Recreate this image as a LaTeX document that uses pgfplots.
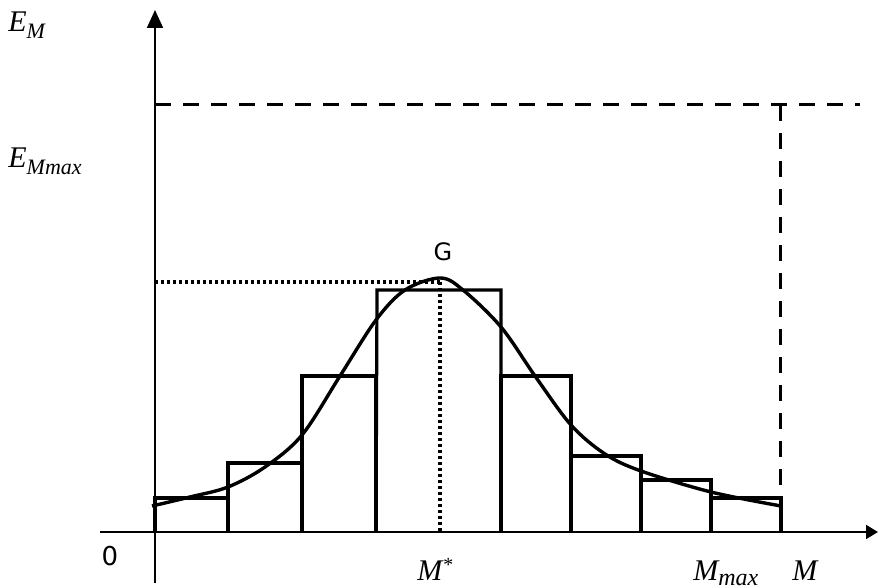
\documentclass[border=0pt]{standalone}
\usepackage{fontspec}
\setmainfont{Liberation Serif}
\newfontfamily\sansf{DejaVu Sans}
\usepackage{pgfplots}
\pgfplotsset{compat=1.18}
\usetikzlibrary{arrows.meta}
\begin{document}
\begin{tikzpicture}
\begin{axis}[
  scale only axis, width=440pt, height=294pt,
  xmin=0, xmax=880, ymin=0, ymax=588,
  hide axis, clip=false,
]
% axes
\addplot[black, line width=1pt, -{Triangle[width=8pt,length=9pt]}] coordinates {(155,5) (155,578)};
\addplot[black, line width=1pt, -{Triangle[width=7pt,length=6pt]}] coordinates {(100,56) (878,56)};
% histogram bars
\addplot[black, line width=1.6pt] coordinates {(155,56) (155,90) (228,90) (228,56)};
\addplot[black, line width=1.6pt] coordinates {(228,56) (228,125) (302,125) (302,56)};
\addplot[black, line width=1.6pt] coordinates {(302,56) (302,212) (376,212) (376,56)};
\addplot[black, line width=1.6pt] coordinates {(376,56) (377,298) (501,298) (501,56)};
\addplot[black, line width=1.6pt] coordinates {(501,56) (501,212) (571,212) (571,56)};
\addplot[black, line width=1.6pt] coordinates {(571,56) (571,132) (641,132) (641,56)};
\addplot[black, line width=1.6pt] coordinates {(641,56) (641,108) (711,108) (711,56)};
\addplot[black, line width=1.6pt] coordinates {(711,56) (711,90) (781,90) (781,56)};
% bell curve
\addplot[black, line width=1.7pt, smooth, tension=0.55] coordinates {
(152,82) (190,91) (228,101) (265,121) (302,153) (340,212) (376,268) (405,298)
(440,310) (463,298) (501,261) (535,212) (571,163) (605,134) (641,117) (711,96) (781,82)};
% dashed lines
\addplot[black, line width=1.5pt, dash pattern=on 8pt off 6pt] coordinates {(155,483) (860,483)};
\addplot[black, line width=1.5pt, dash pattern=on 8pt off 6pt] coordinates {(780,483) (780,56)};
% dotted lines
\addplot[black, line width=1.7pt, dash pattern=on 1.5pt off 1.5pt] coordinates {(155,306) (440,306)};
\addplot[black, line width=1.7pt, dash pattern=on 1.5pt off 1.5pt] coordinates {(440,306) (440,56)};
% labels
\node[anchor=base west, inner sep=0pt, font=\fontsize{15}{15}\selectfont\itshape] at (axis cs:8,556) {E\raisebox{-0.45ex}{\fontsize{11}{11}\selectfont M}};
\node[anchor=base west, inner sep=0pt, font=\fontsize{15}{15}\selectfont\itshape] at (axis cs:8,420) {E\raisebox{-0.45ex}{\fontsize{11}{11}\selectfont Mmax}};
\node[anchor=base west, inner sep=0pt, font=\fontsize{15}{15}\selectfont\itshape] at (axis cs:417,7) {M\raisebox{0.7ex}{\fontsize{10}{10}\selectfont *}};
\node[anchor=base west, inner sep=0pt, font=\fontsize{15}{15}\selectfont\itshape] at (axis cs:693,7) {M\raisebox{-0.3ex}{\fontsize{12}{12}\selectfont max}};
\node[anchor=base west, inner sep=0pt, font=\fontsize{15}{15}\selectfont\itshape] at (axis cs:792,7) {M};
\node[inner sep=0pt, font=\sansf\fontsize{12}{12}\selectfont] at (axis cs:443,336) {G};
\node[inner sep=0pt, font=\sansf\fontsize{13}{13}\selectfont] at (axis cs:110,32) {0};
\end{axis}
\pgfresetboundingbox
\useasboundingbox (0,0) rectangle (440pt,294pt);
\end{tikzpicture}
\end{document}
